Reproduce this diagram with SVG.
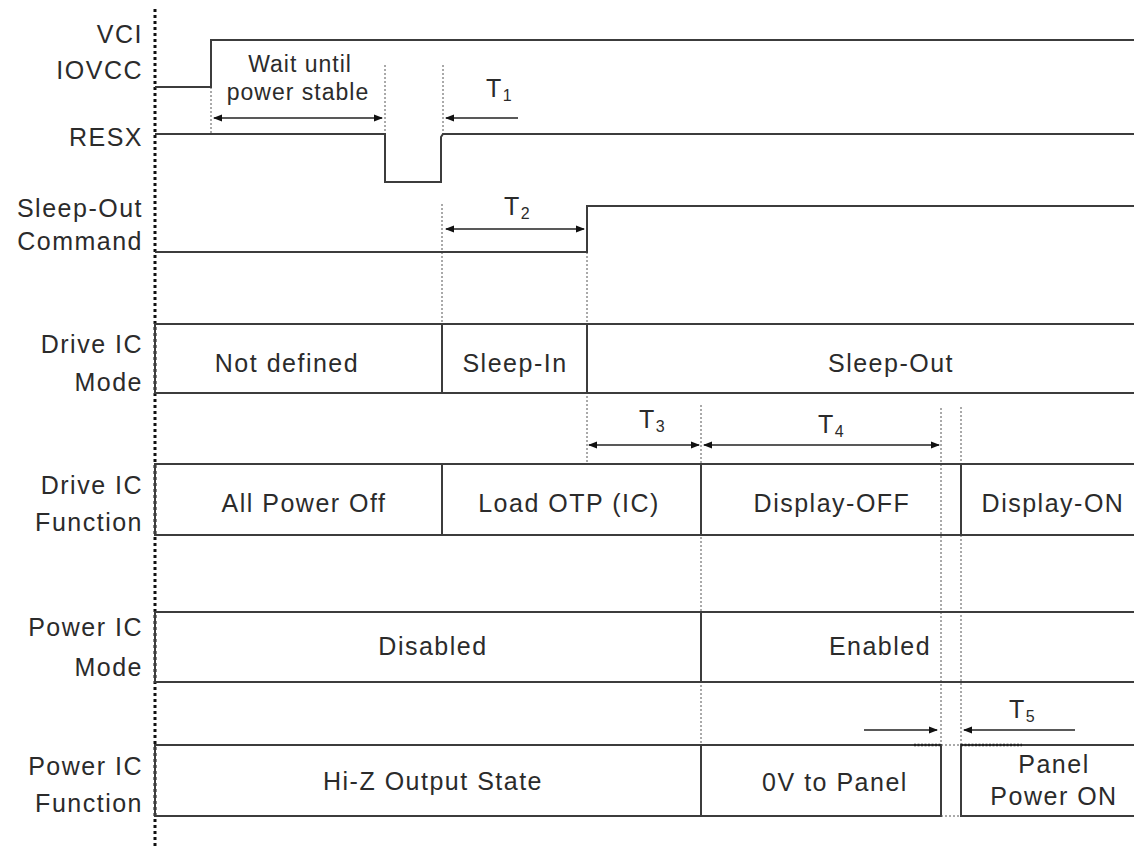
<svg xmlns="http://www.w3.org/2000/svg" width="1134" height="849" viewBox="0 0 1134 849">
<defs>
<style>
.lbl{font-family:"Liberation Sans",Arial,sans-serif;font-size:25px;letter-spacing:1.5px;fill:#2b2b2b}
.lab{text-anchor:end}
.mid{text-anchor:middle}
.sub{font-size:16px;letter-spacing:0}
.sig{fill:none;stroke:#3c3c3c;stroke-width:2}
.box{fill:none;stroke:#3c3c3c;stroke-width:2}
.dot{fill:none;stroke:#555;stroke-width:1;stroke-dasharray:2 2}
.axis{fill:none;stroke:#111;stroke-width:3;stroke-dasharray:3 3}
.arr{fill:none;stroke:#222;stroke-width:1.6}
.thickdot{fill:none;stroke:#222;stroke-width:2.5;stroke-dasharray:2 1.5}
</style>
<marker id="ah" markerWidth="9" markerHeight="8" refX="8" refY="4" orient="auto-start-reverse" markerUnits="userSpaceOnUse">
<path d="M0,0.5 L9,4 L0,7.5 z" fill="#111"/>
</marker>
</defs>
<rect width="1134" height="849" fill="#fff"/>

<g id="guides">
<line class="dot" x1="211" y1="87" x2="211" y2="135"/>
<line class="dot" x1="385" y1="65" x2="385" y2="134"/>
<line class="dot" x1="443" y1="65" x2="443" y2="134"/>
<line class="dot" x1="442" y1="204" x2="442" y2="324"/>
<line class="dot" x1="587" y1="252" x2="587" y2="464"/>
<line class="dot" x1="701" y1="405" x2="701" y2="745"/>
<line class="dot" x1="941" y1="408" x2="941" y2="745"/>
<line class="dot" x1="961" y1="407" x2="961" y2="745"/>
</g>

<g id="axis">
<line class="axis" x1="155" y1="9" x2="155" y2="848"/>
</g>

<g id="labels">
<text class="lbl lab" x="143" y="43">VCI</text>
<text class="lbl lab" x="143" y="79">IOVCC</text>
<text class="lbl lab" x="143" y="146">RESX</text>
<text class="lbl lab" x="143" y="217">Sleep-Out</text>
<text class="lbl lab" x="143" y="250">Command</text>
<text class="lbl lab" x="143" y="353">Drive IC</text>
<text class="lbl lab" x="143" y="391">Mode</text>
<text class="lbl lab" x="143" y="494">Drive IC</text>
<text class="lbl lab" x="143" y="531">Function</text>
<text class="lbl lab" x="143" y="636">Power IC</text>
<text class="lbl lab" x="143" y="676">Mode</text>
<text class="lbl lab" x="143" y="775">Power IC</text>
<text class="lbl lab" x="143" y="812">Function</text>
</g>

<g id="vci">
<path class="sig" d="M155 87 H211 V40 H1134"/>
<text class="lbl mid" x="300" y="72" style="font-size:23px;letter-spacing:1px">Wait until</text>
<text class="lbl mid" x="298" y="100" style="font-size:23px;letter-spacing:1px">power stable</text>
</g>

<g id="resx">
<path class="sig" d="M155 134 H385 V182 H441 V137 L443 134 H1134"/>
</g>

<g id="sleepout">
<path class="sig" d="M155 252 H587 V206 H1134"/>
</g>

<g id="drive-ic-mode">
<rect class="box" x="155" y="324" width="990" height="69"/>
<line class="box" x1="442" y1="324" x2="442" y2="393"/>
<line class="box" x1="587" y1="324" x2="587" y2="393"/>
<text class="lbl mid" x="287" y="372">Not defined</text>
<text class="lbl mid" x="515" y="372">Sleep-In</text>
<text class="lbl mid" x="891" y="372">Sleep-Out</text>
</g>

<g id="drive-ic-function">
<rect class="box" x="155" y="464" width="990" height="71"/>
<line class="box" x1="442" y1="464" x2="442" y2="535"/>
<line class="box" x1="701" y1="464" x2="701" y2="535"/>
<line class="box" x1="961" y1="464" x2="961" y2="535"/>
<text class="lbl mid" x="304" y="512">All Power Off</text>
<text class="lbl mid" x="569" y="512">Load OTP (IC)</text>
<text class="lbl mid" x="832" y="512">Display-OFF</text>
<text class="lbl mid" x="1053" y="512">Display-ON</text>
</g>

<g id="power-ic-mode">
<rect class="box" x="155" y="612" width="990" height="70"/>
<line class="box" x1="701" y1="612" x2="701" y2="682"/>
<text class="lbl mid" x="433" y="655">Disabled</text>
<text class="lbl mid" x="880" y="655">Enabled</text>
</g>

<g id="power-ic-function">
<path class="box" d="M155 745 H941 V816 H155 Z"/>
<path class="box" d="M1134 745 H961 V816 H1134"/>
<line class="box" x1="701" y1="745" x2="701" y2="816"/>
<line class="dot" x1="941" y1="745" x2="961" y2="745"/>
<line class="dot" x1="941" y1="816" x2="961" y2="816"/>
<line class="thickdot" x1="914" y1="745" x2="941" y2="745"/>
<line class="thickdot" x1="961" y1="745" x2="1022" y2="745"/>
<text class="lbl mid" x="433" y="790">Hi-Z Output State</text>
<text class="lbl mid" x="835" y="791">0V to Panel</text>
<text class="lbl mid" x="1054" y="773">Panel</text>
<text class="lbl mid" x="1054" y="805">Power ON</text>
</g>

<g id="connectors">
<line class="arr" x1="214" y1="118" x2="382" y2="118" marker-start="url(#ah)" marker-end="url(#ah)"/>
<line class="arr" x1="518" y1="118" x2="446" y2="118" marker-end="url(#ah)"/>
<line class="arr" x1="446" y1="229" x2="584" y2="229" marker-start="url(#ah)" marker-end="url(#ah)"/>
<line class="arr" x1="589" y1="445" x2="699" y2="445" marker-start="url(#ah)" marker-end="url(#ah)"/>
<line class="arr" x1="704" y1="445" x2="939" y2="445" marker-start="url(#ah)" marker-end="url(#ah)"/>
<line class="arr" x1="864" y1="730" x2="937" y2="730" marker-end="url(#ah)"/>
<line class="arr" x1="1075" y1="730" x2="964" y2="730" marker-end="url(#ah)"/>
</g>

<g id="timing-labels">
<text class="lbl" x="486" y="97">T<tspan class="sub" dy="4">1</tspan></text>
<text class="lbl" x="504" y="215">T<tspan class="sub" dy="4">2</tspan></text>
<text class="lbl" x="639" y="428">T<tspan class="sub" dy="4">3</tspan></text>
<text class="lbl" x="818" y="433">T<tspan class="sub" dy="4">4</tspan></text>
<text class="lbl" x="1009" y="718">T<tspan class="sub" dy="4">5</tspan></text>
</g>
</svg>
